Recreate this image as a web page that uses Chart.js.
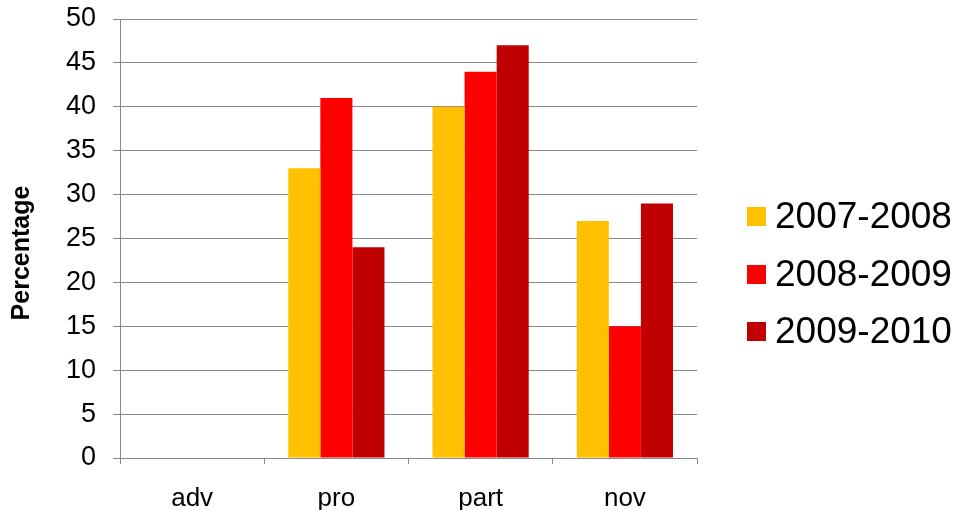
<!DOCTYPE html>
<html>
<head>
<meta charset="utf-8">
<script src="https://cdn.jsdelivr.net/npm/chart.js@4.4.1/dist/chart.umd.min.js"></script>
<style>
  html, body { margin: 0; padding: 0; background: #ffffff; }
  #wrap { position: relative; width: 957px; height: 510px; }
  #chart { position: absolute; left: 0; top: 0; }
  #legend { position: absolute; left: 747px; top: 0; font-family: "Liberation Sans", Arial, sans-serif; }
  .item { position: absolute; left: 0; white-space: nowrap; display: flex; align-items: center; height: 40px; }
  .swatch { width: 19px; height: 19px; margin-right: 9px; }
  .label { font-size: 37px; color: #000; line-height: 40px; }
</style>
</head>
<body>
<div id="wrap">
  <canvas id="chart" width="957" height="510"></canvas>
  <div id="legend"></div>
</div>
<script>
// Performance levels and the percentage of students in each, per school year
const categories = ['adv', 'pro', 'part', 'nov'];
const seriesNames = ['2007-2008', '2008-2009', '2009-2010'];
const values2007 = [0, 33, 40, 27];
const values2008 = [0, 41, 44, 15];
const values2009 = [0, 24, 47, 29];
const seriesColors = ['#FFC000', '#FF0000', '#C00000'];
const yTicks = [0, 5, 10, 15, 20, 25, 30, 35, 40, 45, 50];
const yTitle = 'Percentage';

const FONT = '"Liberation Sans", Arial, sans-serif';
const GRID = '#898989';

const seriesValues = [values2007, values2008, values2009];
const datasets = seriesNames.map((name, i) => ({
  label: name,
  data: seriesValues[i],
  backgroundColor: seriesColors[i],
  borderWidth: 0,
  categoryPercentage: 0.667,
  barPercentage: 1.0
}));

// Vertical axis caption, drawn to the left of the tick labels
const yTitlePlugin = {
  id: 'yTitle',
  afterDraw(chart) {
    const ctx = chart.ctx;
    ctx.save();
    ctx.translate(22, 253);
    ctx.rotate(-Math.PI / 2);
    ctx.font = 'bold 25px ' + FONT;
    ctx.fillStyle = '#000';
    ctx.textAlign = 'center';
    ctx.textBaseline = 'middle';
    ctx.fillText(yTitle, 0, 0);
    ctx.restore();
  }
};

new Chart(document.getElementById('chart'), {
  type: 'bar',
  data: { labels: categories, datasets },
  plugins: [yTitlePlugin],
  options: {
    responsive: false,
    animation: false,
    layout: { padding: { top: 19, right: 260, left: 0, bottom: 0 } },
    plugins: { legend: { display: false }, tooltip: { enabled: false } },
    scales: {
      x: {
        offset: true,
        grid: { display: true, drawOnChartArea: false, drawTicks: true, tickLength: 6, color: GRID, lineWidth: 1, offset: true },
        border: { display: true, color: GRID, width: 1 },
        ticks: { font: { family: FONT, size: 26 }, color: '#000', padding: 19, maxRotation: 0 },
        afterFit(scale) { scale.height = 52; scale.paddingLeft = 0; scale.paddingRight = 0; }
      },
      y: {
        min: 0,
        max: 50,
        afterBuildTicks(scale) { scale.ticks = yTicks.map(v => ({ value: v })); },
        grid: { color: GRID, lineWidth: 1, tickLength: 7, drawTicks: true },
        border: { display: true, color: GRID, width: 1 },
        ticks: { font: { family: FONT, size: 27 }, color: '#000', padding: 17 },
        afterFit(scale) { scale.width = 120; scale.paddingTop = 0; scale.paddingBottom = 0; }
      }
    }
  }
});

// Legend: colour swatch followed by the school year
const legend = document.getElementById('legend');
const rowCenters = [216, 274, 331];
seriesNames.forEach((name, i) => {
  const item = document.createElement('div');
  item.className = 'item';
  item.style.top = (rowCenters[i] - 20) + 'px';
  const sw = document.createElement('div');
  sw.className = 'swatch';
  sw.style.background = seriesColors[i];
  const lb = document.createElement('span');
  lb.className = 'label';
  lb.textContent = name;
  item.appendChild(sw);
  item.appendChild(lb);
  legend.appendChild(item);
});
</script>
</body>
</html>
